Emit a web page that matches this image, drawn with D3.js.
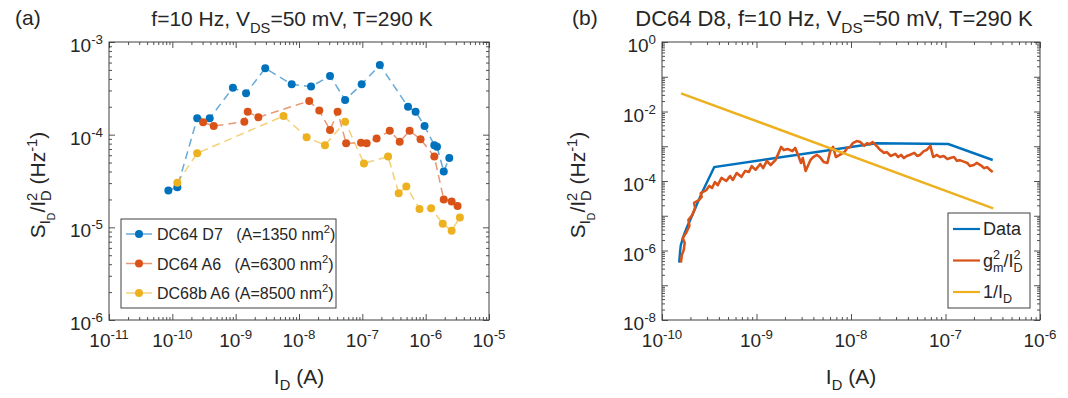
<!DOCTYPE html>
<html>
<head>
<meta charset="utf-8">
<script src="https://cdn.jsdelivr.net/npm/d3@7"></script>
<style>
  body { margin: 0; background: #fff; }
  text { font-family: "Liberation Sans", Arial, Helvetica, sans-serif; fill: #262626; }
</style>
</head>
<body>
<svg id="fig" width="1068" height="398"></svg>
<script>
// ---- panel (a): noise vs drain current, three devices ----
const d7Id = [8.65e-11, 1.20e-10, 2.47e-10, 3.89e-10, 9.04e-10, 1.46e-9, 2.93e-9, 7.67e-9, 1.55e-8, 3.09e-8,
              5.35e-8, 9.77e-8, 1.89e-7, 5.26e-7, 6.93e-7, 9.6e-7, 1.37e-6, 1.51e-6, 1.93e-6, 2.36e-6];
const d7S  = [2.5e-5, 2.7e-5, 1.5e-4, 1.5e-4, 3.2e-4, 2.8e-4, 5.2e-4, 3.5e-4, 3.3e-4, 4.3e-4,
              2.37e-4, 3.5e-4, 5.65e-4, 2.0e-4, 1.77e-4, 1.24e-4, 7.7e-5, 7.4e-5, 4.0e-5, 5.6e-5];

const a6Id = [3.06e-10, 4.50e-10, 1.37e-9, 1.55e-9, 2.28e-9, 1.45e-8, 2.09e-8, 3.09e-8, 4.07e-8, 5.55e-8,
              9.53e-8, 1.17e-7, 1.68e-7, 2.71e-7, 3.89e-7, 5.58e-7, 8.30e-7, 1.37e-6, 1.93e-6, 2.57e-6, 3.19e-6];
const a6S  = [1.36e-4, 1.24e-4, 1.38e-4, 1.77e-4, 1.54e-4, 2.31e-4, 1.82e-4, 1.12e-4, 1.77e-4, 8.07e-5,
              8.2e-5, 8.07e-5, 9.1e-5, 1.1e-4, 8.4e-5, 1.1e-4, 8.9e-5, 5.8e-5, 2.0e-5, 1.9e-5, 1.7e-5];

const b68Id = [1.20e-10, 2.47e-10, 5.69e-9, 1.32e-8, 2.57e-8, 5.35e-8, 1.06e-7, 2.55e-7, 3.75e-7, 4.95e-7,
               8.0e-7, 1.22e-6, 1.86e-6, 2.57e-6, 3.47e-6];
const b68S  = [3.03e-5, 6.3e-5, 1.59e-4, 9.4e-5, 7.7e-5, 1.38e-4, 4.9e-5, 5.8e-5, 2.33e-5, 2.75e-5,
               1.58e-5, 1.61e-5, 1.09e-5, 9.2e-6, 1.28e-5];

const seriesA = [
  { name: "DC64 D7   (A=1350 nm", id: d7Id, s: d7S, color: "#0072BD" },
  { name: "DC64 A6   (A=6300 nm", id: a6Id, s: a6S, color: "#D95319" },
  { name: "DC68b A6 (A=8500 nm", id: b68Id, s: b68S, color: "#EDB120" }
];

// ---- panel (b): DC64 D8 ----
const dataId = [1.52e-10, 1.55e-10, 1.58e-10, 1.68e-10, 1.82e-10, 2.06e-10, 2.63e-10, 3.57e-10, 1.86e-8, 1.07e-7, 3.16e-7];
const dataS  = [4.47e-7, 8.9e-7, 1.41e-6, 2.51e-6, 4.47e-6, 9.33e-6, 4.47e-5, 2.51e-4, 1.22e-3, 1.16e-3, 4.02e-4];

// g_m^2/I_D^2, read as log10 values
const gmLogI = [-9.80,-9.79,-9.77,-9.76,-9.78,-9.74,-9.71,-9.72,-9.68,-9.65,
  -9.66,-9.61,-9.58,-9.59,-9.53,-9.50,-9.47,-9.44,-9.41,-9.37,
  -9.32,-9.28,-9.25,-9.21,-9.16,-9.12,-9.08,-9.05,-9.01,-8.96,
  -8.93,-8.89,-8.85,-8.80,-8.77,-8.74,-8.71,-8.67,-8.62,-8.59,
  -8.56,-8.53,-8.51,-8.48,-8.43,-8.40,-8.36,-8.33,-8.29,-8.25,
  -8.22,-8.19,-8.16,-8.12,-8.07,-8.04,-8.01,-7.98,-7.94,-7.90,
  -7.86,-7.83,-7.80,-7.77,-7.72,-7.69,-7.65,-7.62,-7.58,-7.53,
  -7.50,-7.47,-7.44,-7.41,-7.38,-7.33,-7.30,-7.27,-7.23,-7.20,
  -7.16,-7.13,-7.09,-7.06,-7.02,-6.98,-6.95,-6.91,-6.88,-6.85,
  -6.80,-6.77,-6.74,-6.70,-6.67,-6.63,-6.59,-6.56,-6.53,-6.50];
const gmLogS = [-6.35,-6.13,-5.99,-5.78,-5.64,-5.47,-5.29,-5.12,-4.98,-4.78,
  -4.63,-4.55,-4.46,-4.35,-4.26,-4.14,-4.20,-4.03,-4.12,-3.91,
  -4.00,-3.86,-3.97,-3.77,-3.88,-3.71,-3.74,-3.57,-3.68,-3.51,
  -3.63,-3.42,-3.54,-3.40,-3.22,-3.02,-3.11,-3.08,-3.14,-3.05,
  -3.25,-3.48,-3.34,-3.71,-3.40,-3.31,-3.25,-3.31,-3.45,-3.48,
  -3.14,-3.02,-3.31,-3.25,-3.17,-3.05,-3.02,-2.91,-2.85,-2.88,
  -2.99,-2.91,-2.94,-2.88,-3.02,-3.11,-3.19,-3.17,-3.28,-3.22,
  -3.31,-3.25,-3.34,-3.28,-3.25,-3.19,-3.28,-3.25,-3.14,-3.11,
  -2.99,-3.31,-3.25,-3.31,-3.28,-3.37,-3.34,-3.31,-3.42,-3.40,
  -3.45,-3.48,-3.57,-3.54,-3.48,-3.54,-3.63,-3.60,-3.68,-3.74];

// 1/I_D reference line (straight in log-log, end points)
const invId = [1.59e-10, 3.2e-7];
const invS  = [3.34e-2, 1.64e-5];

const FS = 19;      // tick labels
const FL = 21;      // axis labels / titles
const FLEG = 16;

const svg = d3.select("#fig");

// text with sub/superscripts: parts = [text, baselineOffset, fontSize, dx]
function rich(t, parts) {
  let cur = 0;
  parts.forEach(([s, off, size, dx]) => {
    const sp = t.append("tspan").attr("dy", off - cur).style("font-size", size + "px").text(s);
    if (dx) sp.attr("dx", dx);
    cur = off;
  });
  return t;
}

function logTicks(lo, hi) {
  const major = d3.range(lo, hi + 1).map(e => Math.pow(10, e));
  const minor = [];
  for (let e = lo; e < hi; e++) for (let m = 2; m <= 9; m++) minor.push(m * Math.pow(10, e));
  return { major, minor };
}

function frame(g, x, y, xExp, yExp, yStep, yLabOff) {
  const [x0, x1] = x.range(), [y0, y1] = y.range();
  const xt = logTicks(xExp[0], xExp[1]), yt = logTicks(yExp[0], yExp[1]);
  const clean = a => a.call(s => s.select(".domain").remove())
                      .call(s => s.selectAll("line").attr("stroke", "#262626").attr("stroke-width", 0.8));
  [[d3.axisBottom, y0], [d3.axisTop, y1]].forEach(([ax, pos]) => {
    g.append("g").attr("transform", `translate(0,${pos})`)
      .call(ax(x).tickValues(xt.major).tickSize(-6).tickFormat("")).call(clean);
    g.append("g").attr("transform", `translate(0,${pos})`)
      .call(ax(x).tickValues(xt.minor).tickSize(-3).tickFormat("")).call(clean);
  });
  [[d3.axisLeft, x0], [d3.axisRight, x1]].forEach(([ax, pos]) => {
    g.append("g").attr("transform", `translate(${pos},0)`)
      .call(ax(y).tickValues(yt.major).tickSize(-6).tickFormat("")).call(clean);
    g.append("g").attr("transform", `translate(${pos},0)`)
      .call(ax(y).tickValues(yt.minor).tickSize(-3).tickFormat("")).call(clean);
  });
  g.append("rect").attr("x", x0).attr("y", y1).attr("width", x1 - x0).attr("height", y0 - y1)
    .attr("fill", "none").attr("stroke", "#404040").attr("stroke-width", 1);

  g.selectAll(".xl").data(xt.major).join("text")
    .attr("x", d => x(d)).attr("y", y0 + 27).attr("text-anchor", "middle")
    .each(function (d) {
      rich(d3.select(this), [["10", 0, FS], [String(Math.round(Math.log10(d))), -0.42 * FS, 0.7 * FS]]);
    });
  g.selectAll(".yl").data(yt.major.filter(d => Math.round(Math.log10(d)) % yStep === 0)).join("text")
    .attr("x", x0 - 6).attr("y", d => y(d) + 10).attr("text-anchor", "end")
    .each(function (d) {
      rich(d3.select(this), [["10", 0, FS], [String(Math.round(Math.log10(d))), -0.42 * FS, 0.7 * FS]]);
    });

  // axis labels
  const cx = (x0 + x1) / 2, cy = (y0 + y1) / 2;
  rich(g.append("text").attr("x", cx).attr("y", y0 + 64).attr("text-anchor", "middle"),
    [["I", 0, FL], ["D", 6, 0.7 * FL], [" (A)", 0, FL]]);
  const s2 = 0.7 * FL;
  rich(g.append("text").attr("text-anchor", "middle")
      .attr("transform", `translate(${x0 - yLabOff},${cy + 4}) rotate(-90)`),
    [["S", 0, FL], ["I", 5, s2], ["D", 10, 0.5 * FL], ["/I", 0, FL],
     ["2", -8, s2], ["D", 6, s2, -0.556 * s2], [" (Hz", 0, FL], ["-1", -8, s2], [")", 0, FL]]);
}

// ---------- panel (a) ----------
const gA = svg.append("g");
const xA = d3.scaleLog().domain([1e-11, 1e-5]).range([109, 489]);
const yA = d3.scaleLog().domain([1e-6, 1e-3]).range([320, 42]);
frame(gA, xA, yA, [-11, -5], [-6, -3], 1, 64);

const lineA = d3.line().x(d => xA(d[0])).y(d => yA(d[1]));
seriesA.forEach(s => {
  const pts = d3.zip(s.id, s.s);
  gA.append("path").attr("d", lineA(pts)).attr("fill", "none")
    .attr("stroke", s.color).attr("stroke-opacity", 0.6).attr("stroke-width", 1.5)
    .attr("stroke-dasharray", "8,5");
  gA.selectAll(null).data(pts).join("circle")
    .attr("cx", d => xA(d[0])).attr("cy", d => yA(d[1])).attr("r", 4).attr("fill", s.color);
});

// legend (a)
const legA = gA.append("g");
legA.append("rect").attr("x", 121).attr("y", 219).attr("width", 215).attr("height", 89)
  .attr("fill", "#fff").attr("stroke", "#404040").attr("stroke-width", 1);
seriesA.forEach((s, i) => {
  const yy = 234 + i * 29.5;
  legA.append("line").attr("x1", 126).attr("x2", 152).attr("y1", yy).attr("y2", yy)
    .attr("stroke", s.color).attr("stroke-opacity", 0.6).attr("stroke-width", 1.5);
  legA.append("circle").attr("cx", 139).attr("cy", yy).attr("r", 4).attr("fill", s.color);
  rich(legA.append("text").attr("x", 157).attr("y", yy + 6).style("white-space", "pre"),
    [[s.name, 0, FLEG], ["2", -7, 0.7 * FLEG], [")", 0, FLEG]]);
});

gA.append("text").attr("x", 15).attr("y", 25).style("font-size", FL + "px").text("(a)");
rich(gA.append("text").attr("x", 292).attr("y", 26).attr("text-anchor", "middle"),
  [["f=10 Hz, V", 0, FL], ["DS", 7, 0.7 * FL], ["=50 mV, T=290 K", 0, FL]]);

// ---------- panel (b) ----------
const gB = svg.append("g");
const xB = d3.scaleLog().domain([1e-10, 1e-6]).range([662, 1040]);
const yB = d3.scaleLog().domain([1e-8, 1]).range([320, 42]);
frame(gB, xB, yB, [-10, -6], [-8, 0], 2, 77);

const lineB = d3.line().x(d => xB(d[0])).y(d => yB(d[1]));
const gmPts = d3.zip(gmLogI, gmLogS).map(([a, b]) => [Math.pow(10, a), Math.pow(10, b)]);
gB.append("path").attr("d", lineB(d3.zip(dataId, dataS))).attr("fill", "none")
  .attr("stroke", "#0072BD").attr("stroke-width", 2.4);
gB.append("path").attr("d", lineB(gmPts)).attr("fill", "none")
  .attr("stroke", "#D95319").attr("stroke-width", 2.6).attr("stroke-linejoin", "round");
gB.append("path").attr("d", lineB(d3.zip(invId, invS))).attr("fill", "none")
  .attr("stroke", "#EDB120").attr("stroke-width", 2.4);

// legend (b)
const FLB = 18;
const legB = gB.append("g");
legB.append("rect").attr("x", 948).attr("y", 213).attr("width", 82).attr("height", 95)
  .attr("fill", "#fff").attr("stroke", "#404040").attr("stroke-width", 1);
const legBItems = [
  { color: "#0072BD", parts: [["Data", 0, FLB]] },
  { color: "#D95319", parts: [["g", 0, FLB], ["2", -8, 0.7 * FLB], ["m", 5, 0.7 * FLB, -0.556 * 0.7 * FLB],
                              ["/I", 0, FLB], ["2", -8, 0.7 * FLB], ["D", 5, 0.7 * FLB, -0.556 * 0.7 * FLB]] },
  { color: "#EDB120", parts: [["1/I", 0, FLB], ["D", 5, 0.7 * FLB]] }
];
legBItems.forEach((it, i) => {
  const yy = 229 + i * 31.5;
  legB.append("line").attr("x1", 953).attr("x2", 980).attr("y1", yy).attr("y2", yy)
    .attr("stroke", it.color).attr("stroke-width", 2.2);
  rich(legB.append("text").attr("x", 983).attr("y", yy + 6), it.parts);
});

gB.append("text").attr("x", 572).attr("y", 25).style("font-size", FL + "px").text("(b)");
rich(gB.append("text").attr("x", 834).attr("y", 26).attr("text-anchor", "middle"),
  [["DC64 D8, f=10 Hz, V", 0, 22], ["DS", 7, 0.7 * 22], ["=50 mV, T=290 K", 0, 22]]);
</script>
</body>
</html>
